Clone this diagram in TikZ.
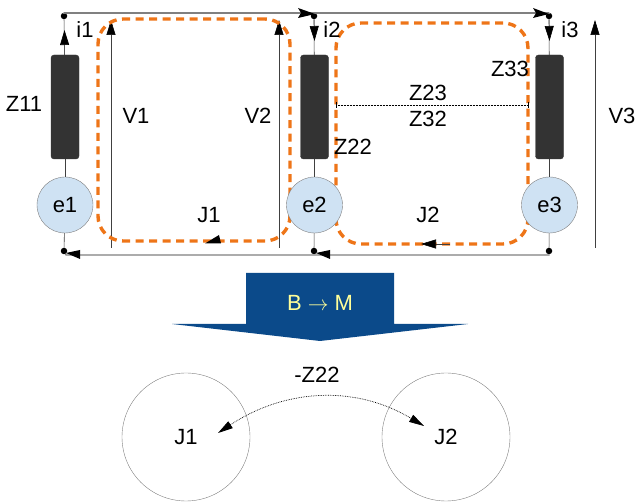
\documentclass[tikz,border=0pt]{standalone}
\usepackage{fontspec}
\setmainfont{Liberation Sans}
\usetikzlibrary{arrows.meta}
\definecolor{wiregray}{HTML}{808080}
\definecolor{resdark}{HTML}{333333}
\definecolor{srcblue}{HTML}{CFE2F3}
\definecolor{loopor}{HTML}{EE7518}
\definecolor{bandblue}{HTML}{0B4A8A}
\definecolor{bandtext}{HTML}{FFFF99}
\tikzset{
  res/.style={draw=resdark, fill=resdark, rounded corners=3pt, minimum width=28pt, minimum height=104pt, inner sep=0pt},
  src/.style={draw=gray, fill=srcblue, circle, minimum size=56pt, inner sep=0pt, font=\fontsize{22}{22}\selectfont},
  dot/.style={fill=black, circle, minimum size=6.5pt, inner sep=0pt},
  lab/.style={inner sep=0pt, font=\fontsize{22}{22}\selectfont},
  wire/.style={draw=wiregray, line width=1.2pt},
  stub/.style={draw=black!75, line width=0.6pt},
  head/.style={-{Triangle[length=15pt,width=9pt,black]}},
  volt/.style={stub, head},
  loopbox/.style={draw=loopor, dash pattern=on 8pt off 5.5pt, line width=3.4pt, rounded corners=25pt, inner sep=0pt},
  mesh/.style={draw=gray, circle, minimum size=128pt, inner sep=0pt, font=\fontsize{22}{22}\selectfont},
}
\begin{document}
\begin{tikzpicture}[x=1pt, y=-1pt]
\useasboundingbox (0,0) rectangle (635,502);
% dots
\node[dot] (d1) at (64,16) {};
\node[dot] (d2) at (314,16) {};
\node[dot] (d3) at (549,16) {};
\node[dot] (b1) at (64,251) {};
\node[dot] (b2) at (314,251) {};
\node[dot] (b3) at (549,251) {};
% wires
\coordinate (t1) at (64,13);
\coordinate (t3) at (549,13);
\coordinate (g1) at (66,255);
\coordinate (g3) at (549,255);
\draw[wire] (d1) -- (t1) -- (t3) -- (d3);
\draw[wire] (b3) -- (g3) -- (g1) -- (b1);
\fill (298,8) -- (315,14) -- (298,18) -- (301,13) -- cycle;
\fill (533,8) -- (549,14) -- (533,18) -- (536,13) -- cycle;
\fill (66,253) -- (80,250) -- (80,259) -- cycle;
\fill (316,253) -- (330,250) -- (330,259) -- cycle;
% voltage arrows
\coordinate (v1a) at (111,248);
\coordinate (v1b) at (111,20);
\coordinate (v2a) at (279,248);
\coordinate (v2b) at (279,20);
\coordinate (v3a) at (595,248);
\coordinate (v3b) at (595,20);
\draw[volt] (v1a) -- (v1b);
\draw[volt] (v2a) -- (v2b);
\draw[volt] (v3a) -- (v3b);
% current loops
\node[loopbox, minimum width=192pt, minimum height=222pt] (loop1) at (194,130) {};
\node[loopbox, minimum width=192pt, minimum height=221pt] (loop2) at (432,133.5) {};
% impedances and sources
\node[res] (z1) at (65,107) {};
\node[res] (z2) at (314.5,107) {};
\node[res] (z3) at (549.5,107) {};
\node[src] (e1) at (65,205) {e1};
\node[src] (e2) at (314.5,205) {e2};
\node[src] (e3) at (549.5,205) {e3};
\draw[stub] (z1) -- (e1);
\draw[stub] (z2) -- (e2);
\draw[stub] (z3) -- (e3);
\draw[stub] (e1) -- (b1);
\draw[stub] (e2) -- (b2);
\draw[stub] (e3) -- (b3);
\coordinate (a1) at (64.5,30);
\coordinate (a2) at (314.5,41);
\coordinate (a3) at (549.5,41);
\draw[stub] (z1) -- (d1);
\draw[stub] (d2) -- (z2);
\draw[stub] (d3) -- (z3);
\draw[volt] (z1) -- (a1);
\draw[volt] (d2) -- (a2);
\draw[volt] (d3) -- (a3);
% coupling
\coordinate (c2) at (336,105);
\coordinate (c3) at (528,105);
\draw[densely dotted, line width=0.5pt] (c2) -- (c3);
\draw[line width=0.5pt] (336,102) -- (336,108);
\draw[line width=0.5pt] (528,102) -- (528,108);
% loop arrowheads
\fill (205,243.5) -- (219,235) -- (221,243.5) -- cycle;
\coordinate (j2a) at (450,244);
\coordinate (j2b) at (421,244);
\draw[volt] (j2a) -- (j2b);
% labels
\node[lab] (i1) at (85,30) {i1};
\node[lab] (i2) at (332,30) {i2};
\node[lab] (i3) at (570,30) {i3};
\node[lab] (z11) at (24,104) {Z11};
\node[lab] (vv1) at (136,116) {V1};
\node[lab] (vv2) at (258,116) {V2};
\node[lab] (vv3) at (622,116) {V3};
\node[lab] (z22) at (353,147) {Z22};
\node[lab] (z23) at (428,93) {Z23};
\node[lab] (z32) at (428,119) {Z32};
\node[lab] (z33) at (510,69) {Z33};
\node[lab] (j1) at (209,215) {J1};
\node[lab] (j2) at (428,215) {J2};
% band
\fill[bandblue] (246,273) -- (394,273) -- (394,324) -- (468,324) -- (320,341) -- (172,324) -- (246,324) -- cycle;
\node[lab, text=bandtext] (bm) at (320,303) {B $\rightarrow$ M};
% meshes
\node[mesh] (m1) at (186,437) {J1};
\node[mesh] (m2) at (446,437) {J2};
\coordinate (ma) at (218,433);
\coordinate (mb) at (424,426);
\draw[densely dotted, line width=0.7pt, {Triangle[length=15pt,width=8pt,black]}-{Triangle[length=15pt,width=8pt,black]}] (ma) .. controls (280,392) and (350,382) .. (mb);
\node[lab] (mz) at (317,375) {-Z22};
\end{tikzpicture}
\end{document}
